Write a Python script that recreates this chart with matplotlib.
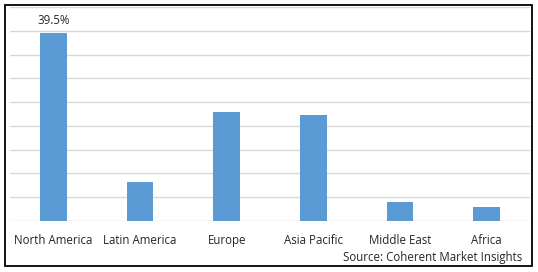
import matplotlib.pyplot as plt
from matplotlib.patches import Rectangle

# Regional market share (%)
regions = ["North America", "Latin America", "Europe", "Asia Pacific", "Middle East", "Africa"]
shares = [39.5, 8.1, 23.0, 22.2, 4.1, 3.0]
label_text = "39.5%"
source = "Source: Coherent Market Insights"

W, H = 538, 272
fig = plt.figure(figsize=(W / 100, H / 100), dpi=100)
plt.rcParams['font.family'] = ['Open Sans', 'DejaVu Sans']

ax = fig.add_axes([10 / W, 51 / H, 520 / W, 214 / H])
x = range(len(regions))
bars = ax.bar(x, shares, width=0.31, color='#5B9BD5', zorder=3)

ax.set_xlim(-0.5, len(regions) - 0.5)
ax.set_ylim(0, 45)
ax.set_yticks(range(0, 46, 5))
ax.yaxis.grid(True, color='#D9D9D9', linewidth=1)
ax.set_axisbelow(True)
for s in ax.spines.values():
    s.set_visible(False)
ax.tick_params(axis='y', left=False, labelleft=False)
ax.tick_params(axis='x', bottom=False, pad=6)
ax.set_xticks(list(x))
ax.set_xticklabels(regions, fontsize=8.3, color='#262626')

# value label on the largest bar
ax.annotate(label_text, xy=(0, shares[0]), xytext=(0, 9), textcoords='offset points',
            ha='center', va='center', fontsize=8.3, color='#262626')

fig.text(522 / W, 1 - 257 / H, source, ha='right', va='center', fontsize=8.3, color='#262626')

# outer frame
fig.patches.append(Rectangle((5 / W, 6 / H), 527 / W, 261 / H, transform=fig.transFigure,
                             fill=False, edgecolor='black', linewidth=1.3))

fig.savefig("out.png", dpi=100)
